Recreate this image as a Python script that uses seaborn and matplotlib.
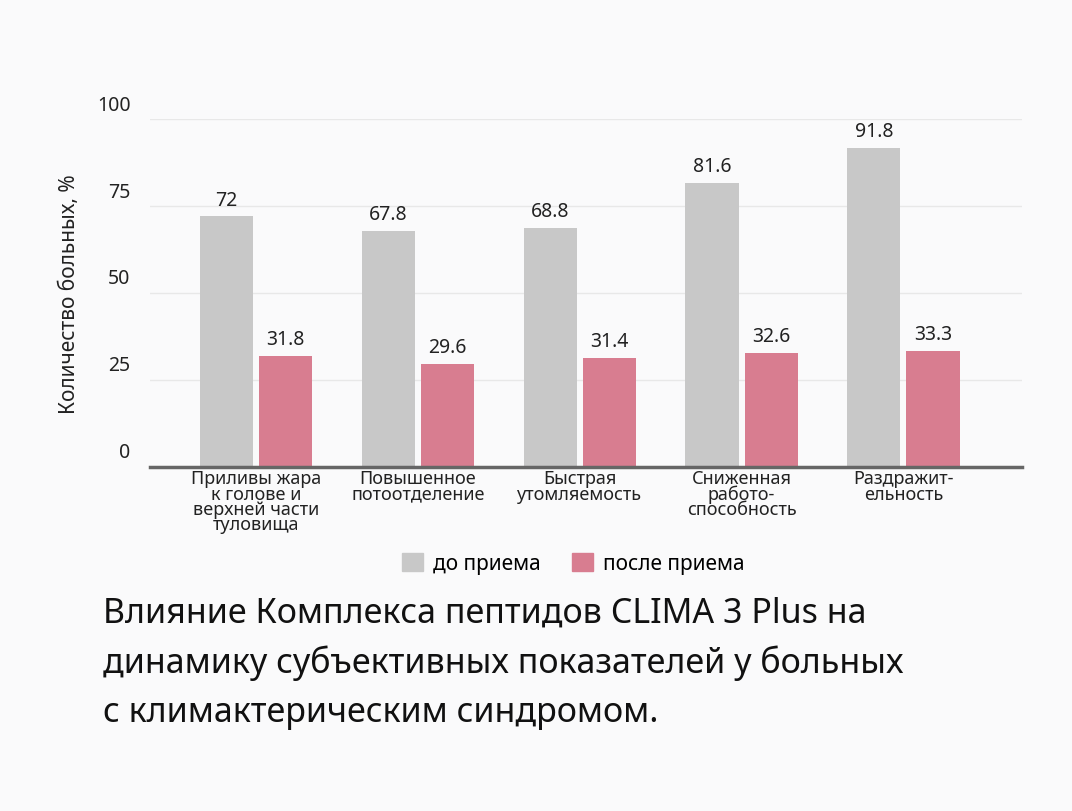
import pandas as pd
import seaborn as sns
import matplotlib.pyplot as plt
from matplotlib.transforms import ScaledTranslation

categories = ["Приливы жара\nк голове и\nверхней части\nтуловища", "Повышенное\nпотоотделение",
              "Быстрая\nутомляемость", "Сниженная\nработо-\nспособность", "Раздражит-\nельность"]
before = [72, 67.8, 68.8, 81.6, 91.8]
after = [31.8, 29.6, 31.4, 32.6, 33.3]
series = ["до приема", "после приема"]

df = pd.DataFrame({
    "cat": categories * 2,
    "val": before + after,
    "ser": [series[0]] * 5 + [series[1]] * 5,
})

plt.rcParams["font.family"] = "Noto Sans"
bg = "#fafafb"
fig = plt.figure(figsize=(10.72, 8.12), dpi=100, facecolor=bg)
ax = fig.add_axes([0.14, 0.424, 0.813, 0.428], facecolor=bg)

sns.barplot(data=df, x="cat", y="val", hue="ser", palette=["#c8c8c8", "#d87d90"],
            saturation=1, width=0.73, gap=0.1, ax=ax, legend=False)

for cont in ax.containers:
    ax.bar_label(cont, labels=[f"{v:g}" for v in cont.datavalues], padding=5,
                 fontsize=14, color="#222222")

ax.set_xlim(-0.654, 4.73)
ax.set_ylim(0, 100)
ax.set_yticks([0, 25, 50, 75, 100])
ax.grid(axis="y", color="#e8e8e8", linewidth=1)
ax.set_axisbelow(True)
for s in ["top", "right", "left"]:
    ax.spines[s].set_visible(False)
ax.spines["bottom"].set_color("#666666")
ax.spines["bottom"].set_linewidth(2.5)
ax.tick_params(axis="x", length=0, labelsize=13, colors="#222222", pad=2)
ax.tick_params(axis="y", length=0, labelsize=14, colors="#222222", pad=14)
for lab in ax.get_yticklabels():
    lab.set_transform(lab.get_transform() + ScaledTranslation(0, 0.17, fig.dpi_scale_trans))
for lab in ax.get_xticklabels():
    lab.set_linespacing(0.8)
ax.set_xlabel("")
ax.set_ylabel("Количество больных, %", fontsize=15, color="#222222", labelpad=12)

handles = [plt.Rectangle((0, 0), 1, 1, color=c) for c in ["#c8c8c8", "#d87d90"]]
fig.legend(handles, series, loc="center", bbox_to_anchor=(0.535, 0.305), ncol=2,
           frameon=False, fontsize=15, handlelength=1.0, handleheight=1.0,
           columnspacing=1.5, handletextpad=0.5)

caption = ("Влияние Комплекса пептидов CLIMA 3 Plus на\n"
           "динамику субъективных показателей у больных\n"
           "с климактерическим синдромом.")
fig.text(0.096, 0.265, caption, fontsize=24.5, va="top", ha="left", color="#111111",
         linespacing=1.55)

plt.savefig("out.png", facecolor=bg)
